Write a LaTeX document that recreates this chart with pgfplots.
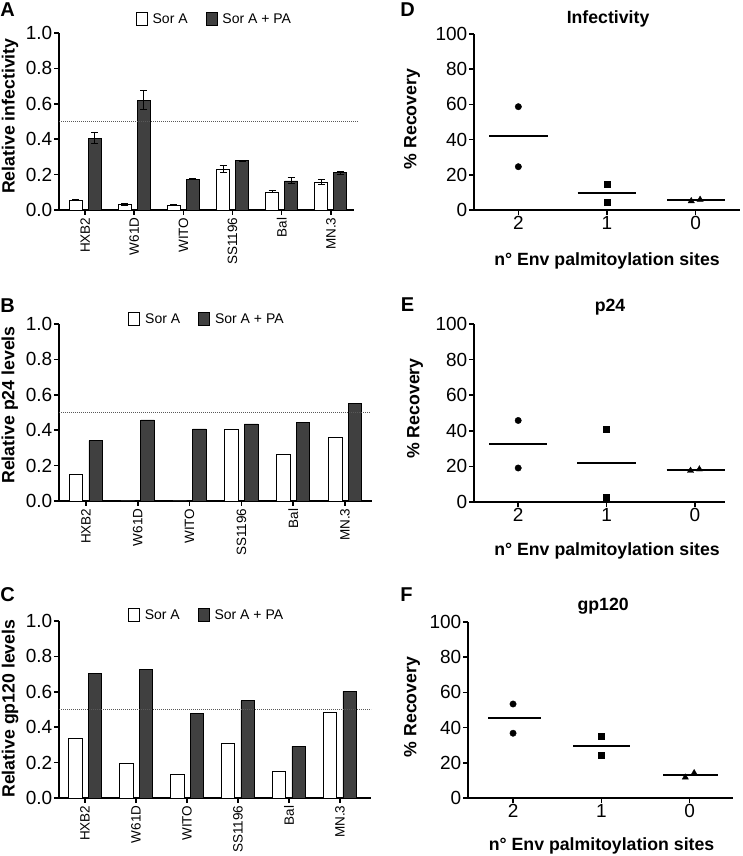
\documentclass[border=0pt]{standalone}
\usepackage{pgfplots}
\pgfplotsset{compat=1.18}
\usepackage{fontspec}
\setmainfont{Liberation Sans}

\newcommand\tickfont{\fontsize{19}{21}\selectfont}
\newcommand\labfont{\fontsize{17.7}{20}\selectfont\bfseries}
\newcommand\legfont{\fontsize{14}{16}\selectfont}
\newcommand\catfont{\fontsize{13.5}{15}\selectfont}
\newcommand\letfont{\fontsize{20}{22}\selectfont\bfseries}

\definecolor{darkbar}{HTML}{404040}

\pgfplotsset{
  panel/.style={
    scale only axis, anchor=south west, clip=false,
    axis x line*=bottom, axis y line*=left,
    tick align=outside, major tick length=5pt,
    axis line style={line width=1.5pt},
    tick style={line width=1.5pt, black},
    tick label style={font=\tickfont, inner sep=1.5pt},
    label style={font=\labfont},
    title style={font=\labfont, anchor=center},
  },
  % ybar=gap and bar width come first, so that the box legend below wins
  barpanel/.style 2 args={
    ybar=#1, bar width=#2,
    panel,
    ymin=0, ymax=1,
    ytick={0,0.2,0.4,0.6,0.8,1}, yticklabels={0.0,0.2,0.4,0.6,0.8,1.0},
    xtick={0,1,2,3,4,5}, xticklabels={HXB2,W61D,WITO,SS1196,Bal,MN.3},
    xticklabel style={rotate=90, anchor=east, font=\catfont, inner sep=2.5pt},
    legend columns=2,
    legend style={draw=none, fill=none, font=\legfont, anchor=center,
      /tikz/every odd column/.append style={column sep=3pt},
      /tikz/every even column/.append style={column sep=16pt}},
    legend image code/.code={\draw[##1,/tikz/.cd,line width=0.8pt] (0pt,-6.5pt) rectangle (11pt,6.5pt);},
  },
  sora/.style={fill=white, draw=black, line width=0.8pt},
  sorapa/.style={fill=darkbar, draw=black, line width=0.8pt},
  errs/.style={error bars/.cd, y dir=both, y explicit,
    error bar style={line width=1pt, black},
    error mark options={rotate=90, mark size=3.5pt, line width=1pt, black}},
  scatpanel/.style={
    panel,
    ymin=0, ymax=100,
    ytick={0,20,40,60,80,100}, yticklabels={0,20,40,60,80,100},
    xtick={0,1,2}, xticklabels={2,1,0},
    xlabel={n\textdegree{} Env palmitoylation sites},
    ylabel={\% Recovery},
  },
  meanline/.style={black, line width=2pt, no marks},
  circ/.style={only marks, mark=*, mark size=3.2pt, black},
  sqr/.style={only marks, mark=square*, mark size=3pt, black},
  tri/.style={only marks, mark=triangle*, mark size=3.6pt, black},
  refline/.style={sharp plot, densely dotted, line width=1pt, black!65, forget plot},
}

\begin{document}
\begin{tikzpicture}
\useasboundingbox (0,0) rectangle (742pt,856pt);

% ---------- A ----------
\begin{axis}[barpanel={6pt}{13pt},
  at={(59pt,646pt)}, width=295pt, height=177pt,
  xmin=-0.53, xmax=5.47,
  ylabel={Relative infectivity},
  ylabel style={at={(axis description cs:-0.166,0.53)}, anchor=center},
  legend style={at={(axis description cs:0.527,1.079)}}]
\addplot[sora, errs] coordinates {
  (0,0.057) +- (0,0.004)
  (1,0.032) +- (0,0.005)
  (2,0.027) +- (0,0.002)
  (3,0.232) +- (0,0.018)
  (4,0.102) +- (0,0.006)
  (5,0.157) +- (0,0.015)
};
\addlegendentry{Sor A}
\addplot[sorapa, errs] coordinates {
  (0,0.406) +- (0,0.030)
  (1,0.621) +- (0,0.054)
  (2,0.174) +- (0,0.004)
  (3,0.279) +- (0,0.003)
  (4,0.164) +- (0,0.017)
  (5,0.211) +- (0,0.008)
};
\addlegendentry{Sor A + PA}
\addplot[refline] coordinates {(-0.53,0.5) (5.55,0.5)};
\end{axis}

% ---------- B ----------
\begin{axis}[barpanel={6.1pt}{13.5pt},
  at={(59pt,355pt)}, width=313pt, height=177pt,
  xmin=-0.52, xmax=5.52,
  ylabel={Relative p24 levels},
  ylabel style={at={(axis description cs:-0.157,0.542)}, anchor=center},
  legend style={at={(axis description cs:0.473,1.028)}}]
\addplot[sora] coordinates {(0,0.151) (1,0) (2,0) (3,0.405) (4,0.266) (5,0.362)};
\addlegendentry{Sor A}
\addplot[sorapa] coordinates {(0,0.341) (1,0.458) (2,0.407) (3,0.435) (4,0.446) (5,0.550)};
\addlegendentry{Sor A + PA}
\addplot[refline] coordinates {(-0.52,0.5) (5.5,0.5)};
\end{axis}

% ---------- C ----------
\begin{axis}[barpanel={6.1pt}{13.5pt},
  at={(59pt,58pt)}, width=312pt, height=177pt,
  xmin=-0.51, xmax=5.61,
  ylabel={Relative gp120 levels},
  ylabel style={at={(axis description cs:-0.157,0.505)}, anchor=center},
  legend style={at={(axis description cs:0.473,1.034)}}]
\addplot[sora] coordinates {(0,0.336) (1,0.195) (2,0.132) (3,0.308) (4,0.150) (5,0.483)};
\addlegendentry{Sor A}
\addplot[sorapa] coordinates {(0,0.705) (1,0.727) (2,0.479) (3,0.549) (4,0.291) (5,0.602)};
\addlegendentry{Sor A + PA}
\addplot[refline] coordinates {(-0.51,0.5) (5.61,0.5)};
\end{axis}

% ---------- D ----------
\begin{axis}[scatpanel, at={(474pt,646pt)}, width=266pt, height=176pt,
  xmin=-0.5, xmax=2.5,
  title={Infectivity},
  title style={at={(axis description cs:0.504,1.051)}},
  ylabel style={at={(axis description cs:-0.233,0.517)}, anchor=center},
  xlabel style={at={(axis description cs:0.5,-0.29)}, anchor=center}]
\addplot[circ] coordinates {(0,58.7) (0,24.6)};
\addplot[sqr] coordinates {(1,14.8) (1,4.5)};
\addplot[tri] coordinates {(1.95,5.1) (2.05,5.9)};
\addplot[meanline] coordinates {(-0.33,41.9) (0.33,41.9)};
\addplot[meanline] coordinates {(0.67,9.7) (1.33,9.7)};
\addplot[meanline] coordinates {(1.68,5.7) (2.33,5.7)};
\end{axis}

% ---------- E ----------
\begin{axis}[scatpanel, at={(474pt,354pt)}, width=251pt, height=178pt,
  xmin=-0.5, xmax=2.34,
  title={p24},
  title style={at={(axis description cs:0.542,1.062)}},
  ylabel style={at={(axis description cs:-0.235,0.525)}, anchor=center},
  xlabel style={at={(axis description cs:0.53,-0.275)}, anchor=center}]
\addplot[circ] coordinates {(0,45.8) (0,19.1)};
\addplot[sqr] coordinates {(1,40.7) (1,2.6)};
\addplot[tri] coordinates {(1.95,17.6) (2.05,18.4)};
\addplot[meanline] coordinates {(-0.33,32.6) (0.33,32.6)};
\addplot[meanline] coordinates {(0.67,21.9) (1.33,21.9)};
\addplot[meanline] coordinates {(1.68,18.2) (2.34,18.2)};
\end{axis}

% ---------- F ----------
\begin{axis}[scatpanel, at={(468pt,58pt)}, width=265pt, height=176pt,
  xmin=-0.51, xmax=2.49,
  title={gp120},
  title style={at={(axis description cs:0.51,1.057)}},
  ylabel style={at={(axis description cs:-0.211,0.517)}, anchor=center},
  xlabel style={at={(axis description cs:0.504,-0.273)}, anchor=center}]
\addplot[circ] coordinates {(0,53.4) (0,36.8)};
\addplot[sqr] coordinates {(1,34.9) (1,24.2)};
\addplot[tri] coordinates {(1.95,11.7) (2.05,14.2)};
\addplot[meanline] coordinates {(-0.28,45.3) (0.32,45.3)};
\addplot[meanline] coordinates {(0.68,29.6) (1.32,29.6)};
\addplot[meanline] coordinates {(1.7,13.2) (2.32,13.2)};
\end{axis}

% panel letters
\node[font=\letfont] at (7.5pt,846pt) {A};
\node[font=\letfont] at (7.5pt,550.5pt) {B};
\node[font=\letfont] at (7.5pt,261pt) {C};
\node[font=\letfont] at (407.5pt,846pt) {D};
\node[font=\letfont] at (407.5pt,551pt) {E};
\node[font=\letfont] at (406.5pt,261pt) {F};
\end{tikzpicture}
\end{document}
